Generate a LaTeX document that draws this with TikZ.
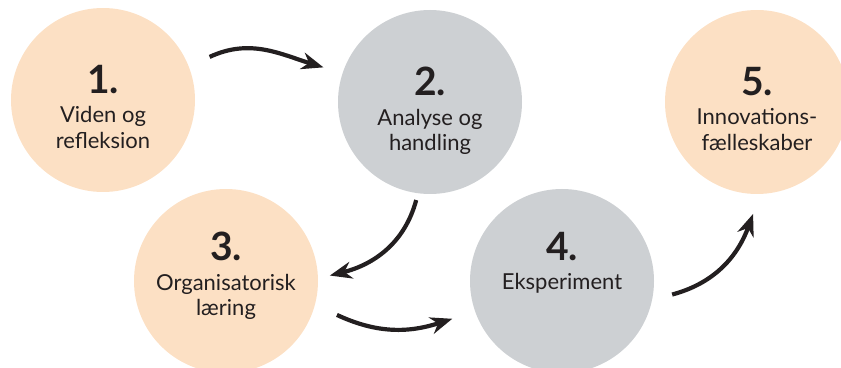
\documentclass[tikz,border=0pt]{standalone}
\usepackage{fontspec}
\setmainfont{Lato}
\usepackage{tikz}
\usetikzlibrary{arrows.meta,positioning,calc}
\definecolor{cPeach}{HTML}{FCE0C4}
\definecolor{cGrey}{HTML}{CDD0D3}
\definecolor{cInk}{HTML}{231F20}
\newcommand{\stepnum}[1]{{\fontsize{39}{39}\selectfont\bfseries #1}}
\begin{document}
\begin{tikzpicture}[
  x=1pt, y=1pt,
  disc/.style={circle, minimum size=184pt, inner sep=0pt, draw=none},
  warm/.style={disc, fill=cPeach},
  cool/.style={disc, fill=cGrey},
  txt/.style={anchor=north, inner sep=0pt, align=center, text=cInk,
    font=\fontsize{22}{25.5}\selectfont},
  flow/.style={-{Stealth[length=22pt,width=17pt,inset=7pt]}, line width=4.2pt,
    cInk},
]
\useasboundingbox (0,0) rectangle (841,367);
\clip (0,0) rectangle (841,367);
% circles
\node[warm] (c1) at (103,267) {};
\node[cool] (c2) at (430,265) {};
\node[warm] (c5) at (757,265) {};
\node[warm] (c3) at (226,86) {};
\node[cool] (c4) at (562,86) {};
% texts
\node[txt] (t1) at ($(c1)+(0,35)$) {\stepnum{1.}\\[4pt]Viden og\\refleksion};
\node[txt] (t2) at ($(c2)+(0,35)$) {\stepnum{2.}\\[4pt]Analyse og\\handling};
\node[txt] (t5) at ($(c5)+(0,35)$) {\stepnum{5.}\\[4pt]Innovations-\\fælleskaber};
\node[txt] (t3) at ($(c3)+(0,49)$) {\stepnum{3.}\\[4pt]Organisatorisk\\læring};
\node[txt] (t4) at ($(c4)+(0,49)$) {\stepnum{4.}\\[4pt]Eksperiment};
% arrow ends
\coordinate (a1) at ($(c1)+(22:115)$);
\coordinate (a2) at ($(c2)+(162:112)$);
\coordinate (b1) at ($(c2)+(262:99)$);
\coordinate (b2) at ($(c3)+(3:104)$);
\coordinate (d1) at ($(c3)+(-17:116)$);
\coordinate (d2) at ($(c4)+(199:116)$);
\coordinate (e1) at ($(c4)+(-7:111)$);
\coordinate (e2) at ($(c5)+(268:112)$);
% arrows
\draw[flow] (a1) to[out=25, in=163] (a2);
\draw[flow] (b1) to[out=255, in=14] (b2);
\draw[flow] (d1) to[out=-25, in=198] (d2);
\draw[flow] (e1) to[out=15, in=250] (e2);
\end{tikzpicture}
\end{document}
